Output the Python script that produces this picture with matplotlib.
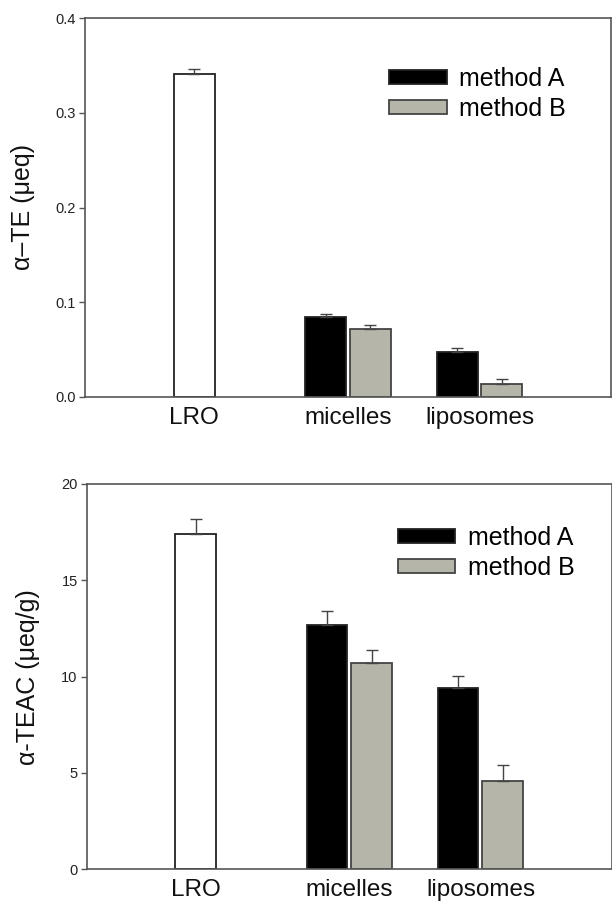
import matplotlib
matplotlib.use("Agg")
import matplotlib.pyplot as plt

plt.rcParams['font.family'] = ['Liberation Sans', 'DejaVu Sans']

# categories and values
groups = ["LRO", "micelles", "liposomes"]
lro_te = 0.341
lro_te_err = 0.005
te_a = [0.0845, 0.0475]
te_a_err = [0.0035, 0.004]
te_b = [0.0715, 0.014]
te_b_err = [0.004, 0.005]

lro_teac = 17.4
lro_teac_err = 0.8
teac_a = [12.7, 9.4]
teac_a_err = [0.7, 0.63]
teac_b = [10.7, 4.6]
teac_b_err = [0.7, 0.8]

# layout (x positions in axis units)
lro_x = 0.83
grp_x = [2.0, 3.0]
off = 0.17
w = 0.31
gray = '#b5b5aa'
spine = '#555555'

fig = plt.figure(figsize=(6.12, 9.08), dpi=100)


def panel(rect, lro, lro_err, a, a_err, b, b_err, ylim, yticks, yticklabels, ylabel, leg_xy):
    ax = fig.add_axes(rect)
    ek = dict(ecolor='#444444', elinewidth=1, capsize=4, capthick=1)
    ax.bar(lro_x, lro, w, yerr=[[0], [lro_err]], color='white', edgecolor='#222222',
           linewidth=1.3, error_kw=ek, zorder=2)
    xa = [x - off for x in grp_x]
    xb = [x + off for x in grp_x]
    ax.bar(xa, a, w, yerr=[[0, 0], a_err], color='black', edgecolor='#222222',
           linewidth=1.3, error_kw=ek, label='method A', zorder=2)
    ax.bar(xb, b, w, yerr=[[0, 0], b_err], color=gray, edgecolor='#444444',
           linewidth=1.3, error_kw=ek, label='method B', zorder=2)
    ax.set_xlim(0, 4.0)
    ax.set_ylim(*ylim)
    ax.set_yticks(yticks)
    ax.set_yticklabels(yticklabels, fontsize=10.5, color='#222222')
    ax.set_xticks([lro_x] + grp_x)
    ax.set_xticklabels(groups, fontsize=17.5, color='#111111')
    ax.tick_params(axis='x', length=0, pad=7)
    ax.tick_params(axis='y', length=4, width=1, pad=2.5, color=spine, direction='out')
    for s in ax.spines.values():
        s.set_color(spine)
        s.set_linewidth(1.2)
    ax.set_ylabel(ylabel, fontsize=18, color='#111111', labelpad=15)
    ax.legend(loc='center left', bbox_to_anchor=leg_xy, frameon=False, fontsize=18,
              handlelength=2.3, handleheight=0.5, handletextpad=0.5, labelspacing=0.24,
              borderpad=0, borderaxespad=0)
    return ax


panel([85 / 612, 1 - 397 / 908, 526 / 612, 379 / 908], lro_te, lro_te_err,
      te_a, te_a_err, te_b, te_b_err, (0, 0.4), [0, 0.1, 0.2, 0.3, 0.4],
      ["0.0", "0.1", "0.2", "0.3", "0.4"], "α–TE (μeq)", (0.578, 0.8))

panel([86.7 / 612, 1 - 869.3 / 908, 525 / 612, 385.3 / 908], lro_teac, lro_teac_err,
      teac_a, teac_a_err, teac_b, teac_b_err, (0, 20), [0, 5, 10, 15, 20],
      ["0", "5", "10", "15", "20"], "α-TEAC (μeq/g)", (0.592, 0.822))

fig.savefig("out.png", dpi=100)
